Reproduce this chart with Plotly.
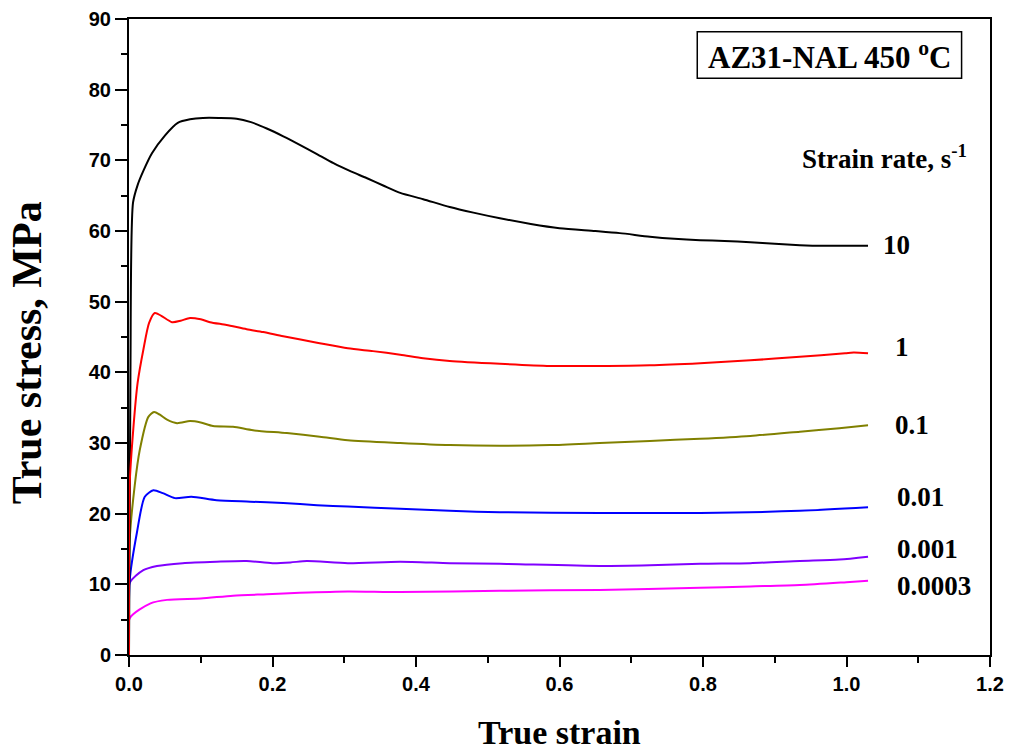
import plotly.graph_objects as go

# ---- data ----
strain_10 = [0, 0.002, 0.0056, 0.012, 0.02, 0.032, 0.05, 0.068, 0.085, 0.103, 0.125, 0.15, 0.17, 0.192,
             0.215, 0.238, 0.26, 0.285, 0.31, 0.331, 0.355, 0.378, 0.41, 0.447, 0.48, 0.517, 0.56, 0.60,
             0.65, 0.684, 0.726, 0.76, 0.796, 0.83, 0.866, 0.9, 0.935, 0.97, 0.99, 1.01, 1.03]
stress_10 = [0, 40, 64.0, 66.5, 68.5, 71.0, 73.5, 75.3, 75.8, 76.0, 76.0, 75.9, 75.4, 74.5,
             73.4, 72.2, 71.0, 69.6, 68.4, 67.5, 66.4, 65.4, 64.5, 63.4, 62.6, 61.8, 61.0, 60.4,
             60.0, 59.7, 59.2, 58.9, 58.7, 58.6, 58.4, 58.2, 58.0, 57.9, 57.9, 57.9, 57.9]

strain_1 = [0, 0.001, 0.006, 0.012, 0.02, 0.028, 0.036, 0.045, 0.06, 0.072, 0.085, 0.1, 0.113, 0.136,
            0.164, 0.187, 0.215, 0.262, 0.305, 0.34, 0.378, 0.41, 0.447, 0.517, 0.587, 0.656, 0.726,
            0.796, 0.866, 0.935, 0.998, 1.01, 1.03]
stress_1 = [0, 24.3, 32, 38.5, 43.2, 47.0, 48.4, 48.0, 47.1, 47.3, 47.7, 47.5, 47.1, 46.7,
            46.1, 45.7, 45.1, 44.2, 43.4, 43.0, 42.5, 42.0, 41.6, 41.2, 40.9, 40.9, 41.0,
            41.3, 41.7, 42.2, 42.7, 42.8, 42.7]

strain_01 = [0, 0.001, 0.008, 0.015, 0.027, 0.035, 0.043, 0.053, 0.067, 0.085, 0.1, 0.117, 0.145,
             0.173, 0.22, 0.266, 0.305, 0.378, 0.447, 0.517, 0.587, 0.656, 0.726, 0.796, 0.866,
             0.935, 0.99, 1.03]
stress_01 = [0, 16.3, 24, 29.0, 33.7, 34.4, 34.0, 33.3, 32.8, 33.1, 32.9, 32.4, 32.3,
             31.8, 31.4, 30.9, 30.4, 30.0, 29.7, 29.6, 29.7, 30.0, 30.3, 30.6, 31.0,
             31.6, 32.1, 32.5]

strain_001 = [0, 0.001, 0.011, 0.022, 0.034, 0.047, 0.064, 0.087, 0.122, 0.169, 0.215, 0.262, 0.305,
              0.378, 0.447, 0.517, 0.656, 0.796, 0.935, 1.03]
stress_001 = [0, 10.6, 17.3, 22.4, 23.3, 22.9, 22.2, 22.4, 21.9, 21.7, 21.5, 21.2, 21.0,
              20.7, 20.4, 20.2, 20.1, 20.1, 20.4, 20.9]

strain_0001 = [0, 0.001, 0.02, 0.039, 0.075, 0.122, 0.164, 0.2, 0.225, 0.248, 0.305, 0.378, 0.447,
               0.517, 0.656, 0.726, 0.796, 0.866, 0.935, 0.99, 1.03]
stress_0001 = [0, 10.2, 12.0, 12.6, 13.0, 13.2, 13.3, 13.0, 13.1, 13.3, 13.0, 13.2, 13.0,
               12.9, 12.6, 12.7, 12.9, 13.0, 13.3, 13.5, 13.9]

strain_00003 = [0, 0.001, 0.03, 0.053, 0.1, 0.145, 0.192, 0.238, 0.305, 0.378, 0.517, 0.656, 0.796,
                0.866, 0.935, 1.0, 1.03]
stress_00003 = [0, 5.2, 7.3, 7.8, 8.0, 8.4, 8.6, 8.8, 9.0, 8.9, 9.1, 9.2, 9.5,
                9.7, 9.9, 10.3, 10.5]

rate_labels = ["10", "1", "0.1", "0.01", "0.001", "0.0003"]
x_ticks = [0.0, 0.2, 0.4, 0.6, 0.8, 1.0, 1.2]
y_ticks = [0, 10, 20, 30, 40, 50, 60, 70, 80, 90]

series = [
    (strain_00003, stress_00003, "#FF00FF", "0.0003"),
    (strain_0001, stress_0001, "#8000FF", "0.001"),
    (strain_001, stress_001, "#0000FF", "0.01"),
    (strain_01, stress_01, "#808000", "0.1"),
    (strain_10, stress_10, "#000000", "10"),
    (strain_1, stress_1, "#FF0000", "1"),
]

fig = go.Figure()
for xs, ys, col, name in series:
    fig.add_trace(go.Scatter(x=xs, y=ys, mode="lines", name=name,
                             line=dict(color=col, width=2, shape="spline", smoothing=0.7),
                             showlegend=False))

serif = "Liberation Serif, Times New Roman, serif"
tickfont = dict(family="Liberation Sans, Arial, sans-serif", size=20, color="black", weight="bold")

axis_common = dict(showline=True, linecolor="black", linewidth=2, mirror=True,
                   ticks="outside", tickwidth=2, tickcolor="black", automargin=False,
                   showgrid=False, zeroline=False, tickfont=tickfont)

fig.update_xaxes(range=[0, 1.2], tickvals=x_ticks, ticktext=[f"{v:.1f}" for v in x_ticks], ticklen=10,
                 minor=dict(dtick=0.1, tick0=0, ticks="outside", ticklen=6, tickwidth=2, tickcolor="black"),
                 **axis_common)
fig.update_yaxes(range=[0, 90], tickvals=y_ticks, ticktext=[str(v) for v in y_ticks], ticklen=12,
                 minor=dict(dtick=5, tick0=0, ticks="outside", ticklen=6, tickwidth=2, tickcolor="black"),
                 **axis_common)

label_pos = [(1.048, 58.0), (1.065, 43.6), (1.065, 32.5), (1.068, 22.4), (1.068, 15.0), (1.068, 9.8)]
annotations = []
for lab, (lx, ly) in zip(rate_labels, label_pos):
    annotations.append(dict(x=lx, y=ly, xref="x", yref="y", text="<b>%s</b>" % lab, showarrow=False,
                            xanchor="left", yanchor="middle", font=dict(family=serif, size=27, color="black")))

annotations += [
    dict(x=0.8137, y=0.943, xref="paper", yref="paper", text="<b>AZ31-NAL 450 <sup>o</sup>C</b>",
         showarrow=False, xanchor="center", yanchor="middle", font=dict(family=serif, size=31, color="black")),
    dict(x=0.877, y=0.783, xref="paper", yref="paper", text="<b>Strain rate, s<sup>-1</sup></b>",
         showarrow=False, xanchor="center", yanchor="middle", font=dict(family=serif, size=27, color="black")),
    dict(x=0.4995, y=-0.1225, xref="paper", yref="paper", text="<b>True strain</b>",
         showarrow=False, xanchor="center", yanchor="middle", font=dict(family=serif, size=34, color="black")),
    dict(x=-0.1185, y=0.476, xref="paper", yref="paper", text="<b>True stress, MPa</b>", textangle=-90,
         showarrow=False, xanchor="center", yanchor="middle", font=dict(family=serif, size=42, color="black")),
]

fig.update_layout(
    width=1009, height=755,
    margin=dict(l=129, r=19, t=19, b=100),
    paper_bgcolor="white", plot_bgcolor="white",
    annotations=annotations,
    shapes=[dict(type="rect", xref="paper", yref="paper", x0=0.660, x1=0.967, y0=0.907, y1=0.980,
                 line=dict(color="black", width=1.5), fillcolor="rgba(0,0,0,0)")],
)

fig.write_html("out.html", config={"displayModeBar": False},
               post_script="document.body.style.margin='0px';")
